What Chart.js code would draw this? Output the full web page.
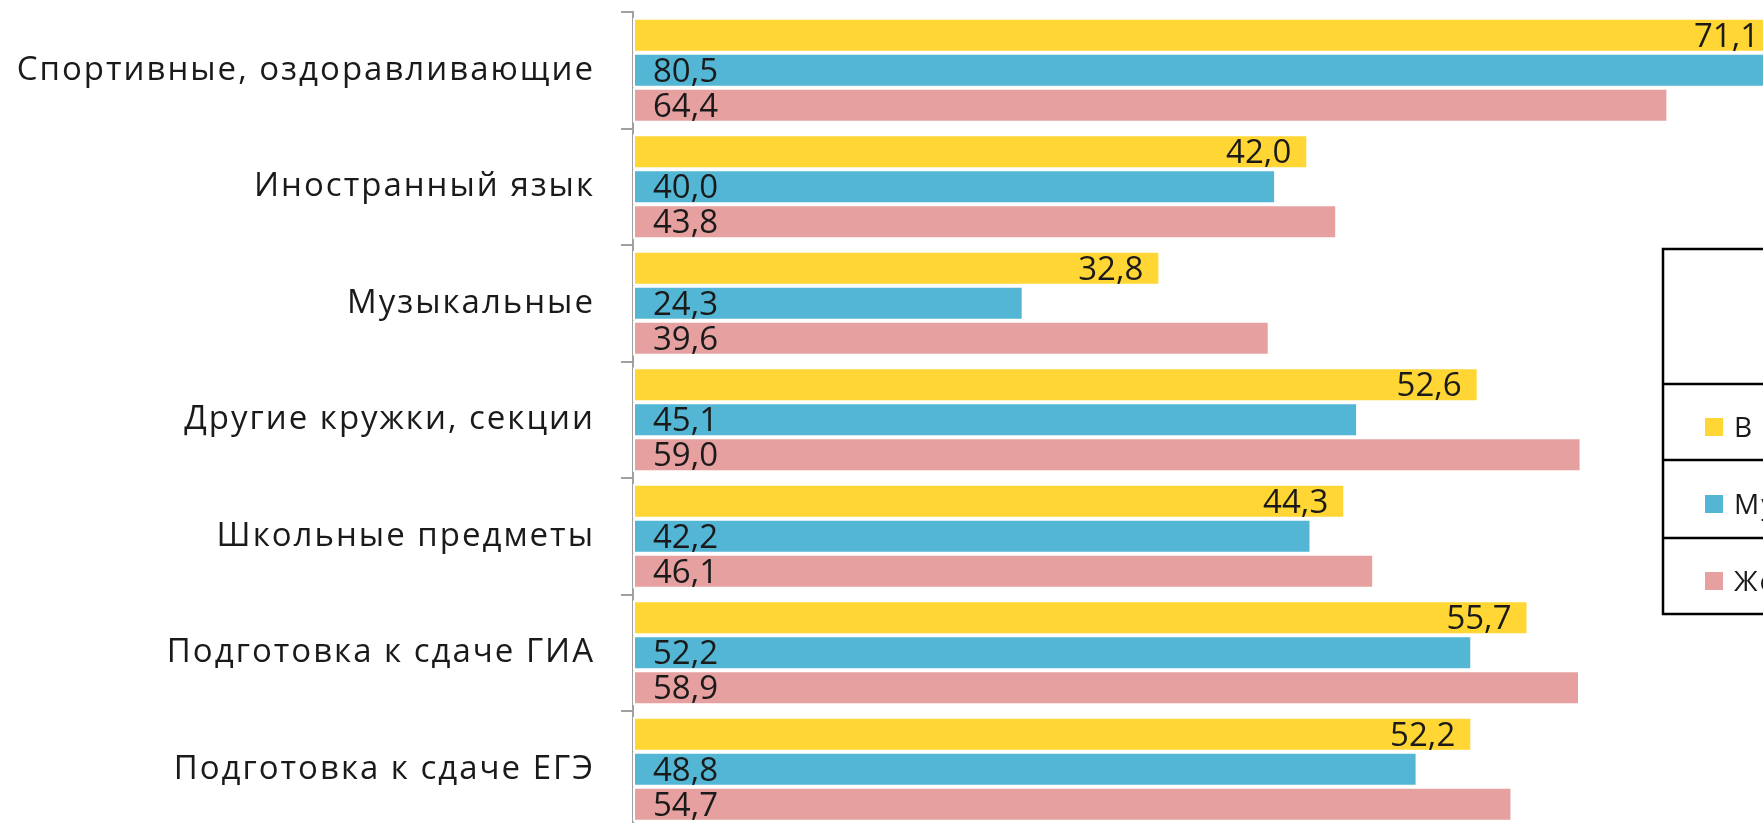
<!DOCTYPE html>
<html><head><meta charset="utf-8">
<script src="https://cdn.jsdelivr.net/npm/chart.js@4/dist/chart.umd.min.js"></script>
<style>
html,body{margin:0;padding:0;background:#fff;overflow:hidden;width:1763px;height:823px}
#wrap{position:absolute;left:0;top:0;width:2080px;height:840px}
</style>
</head><body><div id="wrap"><canvas id="c" width="2080" height="840"></canvas></div>
<script>
const categories = ['Спортивные, оздоравливающие','Иностранный язык','Музыкальные','Другие кружки, секции','Школьные предметы','Подготовка к сдаче ГИА','Подготовка к сдаче ЕГЭ'];
const seriesNames = ['В среднем','Мужской пол','Женский пол'];
const totalValues = [71.1, 42.0, 32.8, 52.6, 44.3, 55.7, 52.2];
const maleValues = [80.5, 40.0, 24.3, 45.1, 42.2, 52.2, 48.8];
const femaleValues = [64.4, 43.8, 39.6, 59.0, 46.1, 58.9, 54.7];
const seriesColors = ['#FFD633','#53B6D5','#E6A09F'];
const xMax = 90;

const FONT = 'Open Sans';
const fmt = v => v.toFixed(1).replace('.', ',');

const spacing = {
  id: 'spacing',
  beforeDraw(chart) { chart.ctx.letterSpacing = '2px'; }
};

const valueLabels = {
  id: 'valueLabels',
  afterDatasetsDraw(chart) {
    const ctx = chart.ctx;
    ctx.save();
    ctx.letterSpacing = '0px';
    ctx.font = '33px "' + FONT + '"';
    ctx.fillStyle = '#1a1a1a';
    ctx.textBaseline = 'alphabetic';
    chart.data.datasets.forEach((ds, di) => {
      const meta = chart.getDatasetMeta(di);
      meta.data.forEach((bar, i) => {
        const txt = fmt(ds.data[i]);
        const y = bar.y + 11.5;
        if (di === 0) {
          ctx.textAlign = 'right';
          ctx.fillText(txt, bar.x - 17, y);
        } else {
          ctx.textAlign = 'left';
          ctx.fillText(txt, bar.base + 20, y);
        }
      });
    });
    ctx.restore();
  }
};

const boxLegend = {
  id: 'boxLegend',
  afterDraw(chart) {
    const ctx = chart.ctx;
    const L = {left: 1663, top: 249, width: 400, header: 135, rows: [76, 78, 76]};
    ctx.save();
    ctx.letterSpacing = '2px';
    const total = L.header + L.rows.reduce((a, b) => a + b, 0);
    ctx.fillStyle = '#fff';
    ctx.fillRect(L.left, L.top, L.width, total);
    ctx.strokeStyle = '#000';
    ctx.lineWidth = 2.5;
    ctx.strokeRect(L.left, L.top, L.width, total);
    let y = L.top + L.header;
    ctx.font = '28px "' + FONT + '"';
    ctx.textBaseline = 'alphabetic';
    ctx.textAlign = 'left';
    chart.data.datasets.forEach((ds, i) => {
      ctx.beginPath();
      ctx.moveTo(L.left, y);
      ctx.lineTo(L.left + L.width, y);
      ctx.stroke();
      const h = L.rows[i];
      const sq = 18;
      const sy = y + h / 2 - sq / 2 + 5;
      ctx.fillStyle = ds.backgroundColor;
      ctx.fillRect(L.left + 42, sy, sq, sq);
      ctx.fillStyle = '#1a1a1a';
      ctx.fillText(ds.label, L.left + 71, sy + sq + 1);
      y += h;
    });
    ctx.restore();
  }
};

new Chart(document.getElementById('c'), {
  type: 'bar',
  data: {
    labels: categories,
    datasets: [totalValues, maleValues, femaleValues].map((vals, i) => ({
      label: seriesNames[i],
      data: vals,
      backgroundColor: seriesColors[i],
      borderColor: '#ffffff',
      borderWidth: 2,
      borderSkipped: false,
      categoryPercentage: 0.9,
      barPercentage: 1.0
    }))
  },
  options: {
    indexAxis: 'y',
    responsive: false,
    animation: false,
    devicePixelRatio: 1,
    layout: {padding: {top: 12, bottom: 12.5, left: 0, right: 0}},
    plugins: {legend: {display: false}, tooltip: {enabled: false}},
    scales: {
      x: {display: false, min: 0, max: xMax},
      y: {
        grid: {drawOnChartArea: false, drawTicks: true, tickLength: 12, color: '#A0A0A0', lineWidth: 2, offset: true},
        border: {display: true, color: '#A0A0A0', width: 2},
        ticks: {font: {family: FONT, size: 33}, color: '#1a1a1a', padding: 26},
        afterFit(s) { s.width = 633; s.paddingTop = 0; s.paddingBottom = 0; }
      }
    }
  },
  plugins: [spacing, valueLabels, boxLegend]
});
</script>
</body></html>
